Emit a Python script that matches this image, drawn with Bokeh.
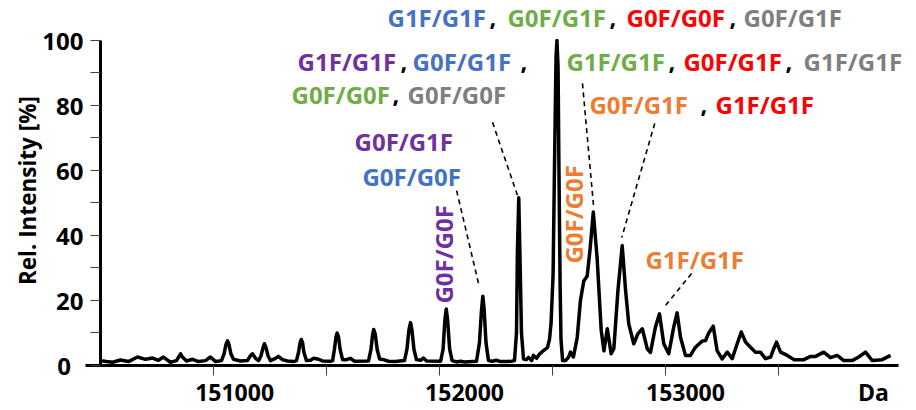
from bokeh.plotting import figure
from bokeh.models import Label, FixedTicker, Range1d
from bokeh.embed import file_html
from bokeh.resources import INLINE
import math

# ---- spectrum trace (mass in Da, relative intensity in %) ----
mass = [
    150498, 150525, 150552, 150587, 150622, 150662, 150698, 150729, 150755, 150777,
    150808, 150835, 150846, 150853, 150861, 150879, 150906, 150932, 150963, 150985,
    151008, 151034, 151045, 151054, 151061, 151067, 151076, 151087, 151118, 151149,
    151162, 151171, 151185, 151198, 151209, 151218, 151224, 151231, 151240, 151251,
    151273, 151286, 151304, 151326, 151353,
    151366, 151375, 151382, 151387, 151393, 151399, 151410, 151428, 151441, 151459,
    151481, 151517, 151526, 151534, 151541, 151546, 151552, 151559, 151570, 151587,
    151605, 151623, 151685, 151696, 151703, 151708, 151715, 151723, 151734, 151751,
    151773, 151804, 151844, 151855, 151864, 151871, 151877, 151886, 151897, 151915,
    151928, 151942, 152004, 152015, 152023, 152029, 152035, 152044, 152055, 152075,
    152092, 152110, 152163, 152176, 152185, 152191, 152197, 152205, 152216, 152234,
    152251, 152269, 152296, 152318,
    152331, 152340, 152344, 152350, 152355, 152362, 152371, 152384, 152393, 152407,
    152415, 152429, 152442, 152460, 152477, 152486, 152493, 152502, 152508, 152515,
    152519, 152524, 152528, 152533, 152537, 152544, 152557, 152570, 152579, 152592,
    152609, 152623, 152638, 152653, 152666, 152680, 152697, 152715, 152727, 152742,
    152759, 152771, 152789, 152808, 152823, 152837, 152859, 152877, 152897, 152919,
    152933, 152955, 152973, 152992, 153014, 153036, 153051, 153066, 153088, 153110,
    153132, 153162, 153177, 153191, 153211, 153228, 153250, 153273, 153295, 153317,
    153335, 153354, 153376, 153398, 153420, 153442, 153465, 153478, 153491, 153509,
    153539, 153568, 153612, 153642, 153664, 153700, 153730, 153760, 153789, 153826,
    153855, 153885, 153915, 153959, 153996,
]
intensity = [
    1.5, 1.2, 1.0, 1.7, 1.2, 2.6, 1.9, 2.3, 1.6, 2.6,
    1.0, 1.5, 2.8, 3.6, 2.6, 1.4, 1.9, 1.2, 1.5, 2.6,
    1.2, 1.5, 3.5, 6.5, 7.6, 6.5, 3.5, 1.9, 1.4, 1.5,
    3.0, 3.6, 2.2, 1.5, 3.0, 5.5, 6.7, 5.5, 3.0, 1.5,
    2.2, 2.8, 1.8, 1.4, 1.2,
    1.5, 4.0, 7.0, 8.0, 7.0, 4.0, 1.5, 1.6, 2.2, 2.0,
    1.4, 1.3, 1.5, 5.0, 8.8, 10.0, 8.8, 5.0, 1.8, 1.8,
    2.2, 1.3, 1.4, 5.0, 9.5, 11.1, 9.5, 5.0, 2.0, 1.8,
    1.3, 1.2, 1.5, 5.0, 11.0, 13.2, 11.0, 5.0, 1.8, 1.6,
    2.3, 1.4, 1.3, 5.0, 14.0, 17.4, 14.0, 5.0, 1.5, 1.1,
    1.3, 1.1, 1.3, 7.0, 17.0, 21.3, 17.0, 7.0, 1.5, 1.3,
    1.6, 1.2, 1.2, 1.3,
    1.5, 10.0, 35.0, 51.6, 35.0, 10.0, 2.0, 1.8, 2.5, 1.5,
    3.1, 2.2, 3.5, 4.6, 5.5, 8.0, 13.0, 28.0, 60.0, 95.0,
    100.0, 92.0, 60.0, 25.0, 8.0, 1.5, 1.5, 2.5, 4.1, 2.6,
    8.7, 20.0, 26.0, 27.5, 36.0, 47.2, 33.0, 10.8, 4.5, 11.3,
    3.6, 5.2, 23.0, 36.9, 23.0, 12.8, 6.7, 9.7, 11.3, 5.1,
    4.0, 11.8, 15.9, 6.7, 3.6, 11.8, 16.2, 8.7, 3.1, 3.1,
    5.6, 7.5, 7.7, 10.0, 12.1, 4.6, 2.0, 4.1, 2.1, 6.7,
    10.3, 7.2, 5.6, 4.1, 4.1, 2.1, 2.6, 5.0, 7.2, 4.1,
    3.1, 1.8, 1.8, 2.8, 2.8, 4.1, 2.4, 3.1, 1.5, 1.5,
    2.6, 4.1, 1.5, 1.8, 3.1,
]

# axis extents and ticks
x_start, x_end = 150498, 154031
y_start, y_end = 0, 100
x_tick_labels = ["151000", "152000", "153000", "Da"]
x_tick_label_pos = [151092, 152110, 153088, 153920]
x_minor_ticks = [151000, 151500, 152000, 152500, 153000, 153500]
y_ticks = [0, 20, 40, 60, 80, 100]
y_minor_ticks = [10, 30, 50, 70, 90]
y_title = "Rel. Intensity [%]"
y_title_pos = (150175, 53.8)

# ---- glycoform annotations ----
BLUE, GREEN, RED, GRAY = "#4472C4", "#70AD47", "#FF0000", "#7F7F7F"
ORANGE, PURPLE, BLACK = "#ED7D31", "#7030A0", "#000000"

ann_text = [
    "G1F/G1F", ",", "G0F/G1F", ",", "G0F/G0F", ",", "G0F/G1F",
    "G1F/G1F", ",", "G0F/G1F", ",",
    "G1F/G1F", ",", "G0F/G1F", ",", "G1F/G1F",
    "G0F/G0F", ",", "G0F/G0F",
    "G0F/G1F", ",", "G1F/G1F",
    "G0F/G1F", "G0F/G0F", "G1F/G1F",
]
ann_color = [
    BLUE, BLACK, GREEN, BLACK, RED, BLACK, GRAY,
    PURPLE, BLACK, BLUE, BLACK,
    GREEN, BLACK, RED, BLACK, GRAY,
    GREEN, BLACK, GRAY,
    ORANGE, BLACK, RED,
    PURPLE, BLUE, ORANGE,
]
ann_x = [
    151769, 152221, 152300, 152752, 152827, 153283, 153345,
    151371, 151827, 151880, 152358,
    152561, 153013, 153079, 153531, 153611,
    151344, 151791, 151858,
    152663, 153155, 153221,
    151623, 151658, 152911,
]
ann_y = [
    107.1, 107.1, 107.1, 107.1, 107.1, 107.1, 107.1,
    93.5, 93.5, 93.5, 93.5,
    93.5, 93.5, 93.5, 93.5, 93.5,
    83.4, 83.4, 83.4,
    80.3, 80.3, 80.3,
    68.9, 58.2, 32.6,
]

# rotated labels
rot_text = ["G0F/G0F", "G0F/G0F"]
rot_color = [PURPLE, ORANGE]
rot_x = [152017, 152592]
rot_y = [34.2, 46.5]

# dashed leader lines
lead_x0 = [152234, 152075, 152632, 152952, 153115]
lead_y0 = [74.8, 53.8, 86.8, 74.5, 28.3]
lead_x1 = [152349, 152172, 152681, 152806, 153000]
lead_y1 = [51.4, 25.2, 49.2, 39.4, 18.5]

FONT = "Open Sans"

p = figure(width=916, height=410, output_backend="svg", toolbar_location=None,
           x_range=Range1d(150055.7, 154110.8), y_range=Range1d(-13.85, 112.3),
           min_border_left=0, min_border_right=0, min_border_top=0,
           min_border_bottom=0)
p.outline_line_color = None
p.xgrid.visible = False
p.ygrid.visible = False
p.background_fill_color = "white"
p.border_fill_color = "white"

p.line(mass, intensity, line_width=3.5, color="black", line_join="round")
p.segment(lead_x0, lead_y0, lead_x1, lead_y1, line_color="black",
          line_width=1.6, line_dash="5 4")

for t, c, x, y in zip(ann_text, ann_color, ann_x, ann_y):
    p.add_layout(Label(x=x, y=y, text=t, text_color=c, text_font=FONT,
                       text_font_style="bold", text_font_size="24px",
                       text_align="left", text_baseline="middle"))
for t, c, x, y in zip(rot_text, rot_color, rot_x, rot_y):
    p.add_layout(Label(x=x, y=y, text=t, text_color=c, text_font=FONT,
                       text_font_style="bold", text_font_size="24px",
                       text_align="center", text_baseline="middle",
                       angle=math.pi / 2))
p.add_layout(Label(x=y_title_pos[0], y=y_title_pos[1], text=y_title,
                   text_color="black", text_font=FONT, text_font_style="bold",
                   text_font_size="22.5px", text_align="center",
                   text_baseline="middle", angle=math.pi / 2))

# axes, crossing at (x_start, 0)
xax = p.xaxis[0]
yax = p.yaxis[0]
xax.fixed_location = y_start
yax.fixed_location = x_start
xax.ticker = FixedTicker(ticks=x_tick_label_pos, minor_ticks=x_minor_ticks)
xax.major_label_overrides = dict(zip(x_tick_label_pos, x_tick_labels))
xax.bounds = (150430, x_end)
xax.major_tick_line_color = None
yax.ticker = FixedTicker(ticks=y_ticks, minor_ticks=y_minor_ticks)
yax.major_label_overrides = {0: "0\u00a0\u00a0"}
yax.bounds = (y_start, y_end)
yax.major_tick_line_color = "#404040"
for ax in (xax, yax):
    ax.axis_line_width = 3
    ax.axis_line_color = "black"
    ax.minor_tick_line_color = "#404040"
    ax.major_tick_line_width = 1
    ax.minor_tick_line_width = 1
    ax.major_tick_out = 10
    ax.major_tick_in = 0
    ax.minor_tick_out = 10
    ax.minor_tick_in = 0
    ax.major_label_text_font = FONT
    ax.major_label_text_font_style = "bold"
    ax.major_label_text_color = "black"
xax.major_label_text_font_size = "23px"
xax.major_label_standoff = 1
yax.major_label_text_font_size = "24px"
yax.major_label_standoff = 7
xax.formatter.use_scientific = False

open("out.html", "w").write(file_html(p, INLINE))
